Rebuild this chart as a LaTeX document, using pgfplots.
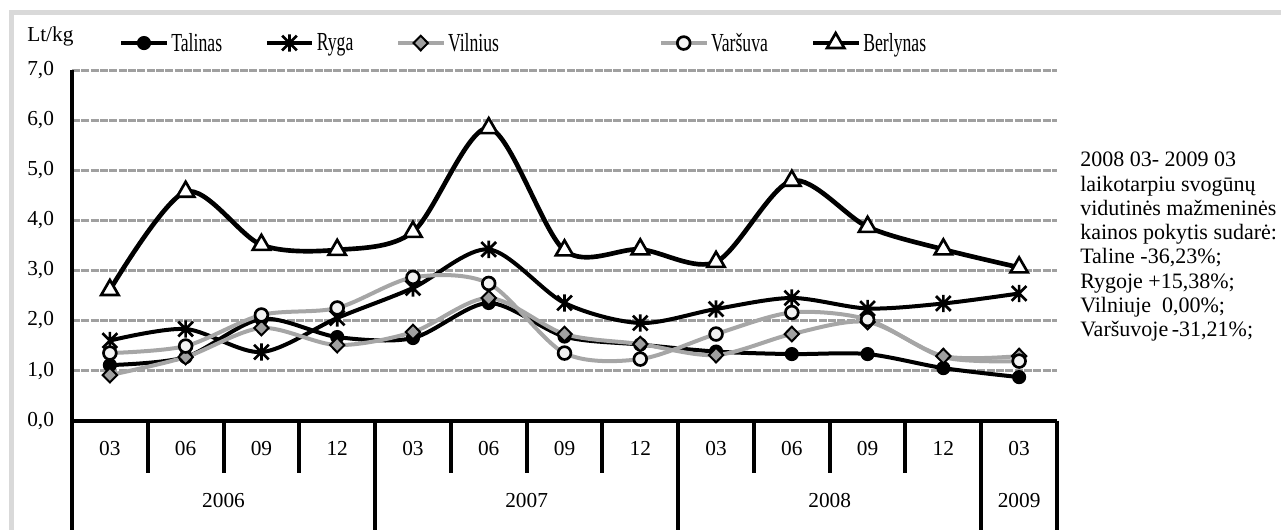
\documentclass[border=0pt]{standalone}
\usepackage{fontspec}
\setmainfont{Liberation Serif}
\usepackage{pgfplots}
\usepackage{pgfplotstable}
\pgfplotsset{compat=1.18}

\definecolor{gridgray}{RGB}{160,160,160}
\definecolor{linegray}{RGB}{166,166,166}
\definecolor{framegray}{RGB}{217,217,217}
\definecolor{markgray}{RGB}{160,160,160}
\definecolor{circfill}{RGB}{242,242,242}

% Excel-like star: X plus a vertical bar
\pgfdeclareplotmark{xstar}{%
  \pgfpathmoveto{\pgfqpoint{0pt}{\pgfplotmarksize}}%
  \pgfpathlineto{\pgfqpoint{0pt}{-\pgfplotmarksize}}%
  \pgfpathmoveto{\pgfqpoint{-0.85\pgfplotmarksize}{0.85\pgfplotmarksize}}%
  \pgfpathlineto{\pgfqpoint{0.85\pgfplotmarksize}{-0.85\pgfplotmarksize}}%
  \pgfpathmoveto{\pgfqpoint{-0.85\pgfplotmarksize}{-0.85\pgfplotmarksize}}%
  \pgfpathlineto{\pgfqpoint{0.85\pgfplotmarksize}{0.85\pgfplotmarksize}}%
  \pgfusepathqstroke}

% svogunu kainos, Lt/kg
\pgfplotstableread{
x  tal  ryg  vil  var  ber
1  1.11 1.60 0.91 1.35 2.61
2  1.27 1.83 1.27 1.49 4.57
3  2.03 1.37 1.85 2.11 3.51
4  1.67 2.05 1.51 2.25 3.41
5  1.65 2.65 1.77 2.86 3.77
6  2.35 3.42 2.45 2.74 5.84
7  1.68 2.35 1.73 1.35 3.40
8  1.52 1.95 1.53 1.23 3.42
9  1.38 2.23 1.31 1.73 3.17
10 1.33 2.45 1.73 2.16 4.79
11 1.33 2.24 1.97 2.02 3.87
12 1.05 2.34 1.29 1.27 3.42
13 0.87 2.54 1.29 1.19 3.06
}\prices

\newcommand{\txt}{\fontsize{16pt}{18pt}\selectfont}
\newcommand{\leg}[1]{\scalebox{0.68}[1]{\fontsize{19.5pt}{21pt}\selectfont #1}}

\begin{document}
\begin{tikzpicture}[x=0.75pt,y=0.75pt]
% frame
\draw[framegray, line width=3.75pt] (11,-20) -- (11,516.5) -- (1300,516.5);

\begin{axis}[
  at={(54pt,81.225pt)}, anchor=south west,
  scale only axis, width=738.75pt, height=263pt,
  xmin=0.5, xmax=13.5, ymin=0, ymax=7,
  clip=false,
  axis x line*=bottom, axis y line*=left,
  axis line style={line width=3pt, -},
  major tick length=0pt,
  xtick={1,...,13},
  xticklabels={03,06,09,12,03,06,09,12,03,06,09,12,03},
  xticklabel style={anchor=center, yshift=-20.5pt},
  ytick={0,...,7},
  yticklabel style={anchor=east, xshift=-10pt,
    /pgf/number format/fixed, /pgf/number format/fixed zerofill,
    /pgf/number format/precision=1, /pgf/number format/use comma,
    /pgf/number format/assume math mode=true},
  tick label style={font=\txt},
  ymajorgrids,
  grid style={gridgray, line width=2.25pt, dash pattern=on 6pt off 1pt},
  legend columns=5,
  legend cell align=left,
  legend style={at={(0.0437,1.077)}, anchor=west, draw=none, fill=none,
    /tikz/every even column/.append style={column sep=30pt}},
  legend image code/.code={\draw[mark indices={2}] plot coordinates {(0pt,0pt) (17pt,0pt) (34pt,0pt)};},
]
\addplot[black, line width=3pt, smooth, mark=*, mark size=4.8pt, mark options={solid, fill=black, line width=1pt}]
  table[x=x, y=tal] {\prices};
\addlegendentry{\leg{Talinas}}
\addplot[black, line width=3pt, smooth, mark=xstar, mark size=6.5pt, mark options={solid, line width=2pt}]
  table[x=x, y=ryg] {\prices};
\addlegendentry{\leg{Ryga}}
\addplot[linegray, line width=3pt, smooth, mark=diamond*, mark size=5.5pt, mark options={solid, fill=markgray, draw=black, line width=1.5pt, xscale=1.3}]
  table[x=x, y=vil] {\prices};
\addlegendentry{\leg{Vilnius}\hspace{88pt}\mbox{}}
\addplot[linegray, line width=3pt, smooth, mark=*, mark size=4.8pt, mark indices={1,2,3,4,5,6,7,8,9,10,11,13}, mark options={solid, fill=circfill, draw=black, line width=2pt}]
  table[x=x, y=var] {\prices};
\addlegendentry{\leg{Varšuva}}
\addplot[black, line width=3.5pt, smooth, mark=triangle*, mark size=7.5pt, mark options={solid, fill=white, draw=black, line width=2pt}]
  table[x=x, y=ber] {\prices};
\addlegendentry{\leg{Berlynas}}

% category separators
\pgfplotsinvokeforeach{1.5,2.5,3.5,5.5,6.5,7.5,9.5,10.5,11.5}{
  \draw[line width=3pt] (axis cs:#1,0) -- ++(0pt,-39pt);
}
\pgfplotsinvokeforeach{0.5,4.5,8.5,12.5,13.5}{
  \draw[line width=3pt] (axis cs:#1,0) -- ++(0pt,-95pt);
}
\node[font=\txt] at ([yshift=-60pt]axis cs:2.5,0) {2006};
\node[font=\txt] at ([yshift=-60pt]axis cs:6.5,0) {2007};
\node[font=\txt] at ([yshift=-60pt]axis cs:10.5,0) {2008};
\node[font=\txt] at ([yshift=-60pt]axis cs:13,0) {2009};
\end{axis}

\node[anchor=base west, inner sep=0pt, font=\txt] at (27,487) {Lt/kg};
\node[anchor=north west, align=left, inner sep=0pt, font=\fontsize{16.5pt}{18.2pt}\selectfont] at (1080,377) {2008 03- 2009 03\\laikotarpiu svogūnų\\vidutinės mažmeninės\\kainos pokytis sudarė:\\Taline -36,23\%;\\Rygoje +15,38\%;\\Vilniuje\ \ 0,00\%;\\Varšuvoje\,-31,21\%;};

\pgfresetboundingbox
\useasboundingbox (0,0) rectangle (1281,529);
\end{tikzpicture}
\end{document}
